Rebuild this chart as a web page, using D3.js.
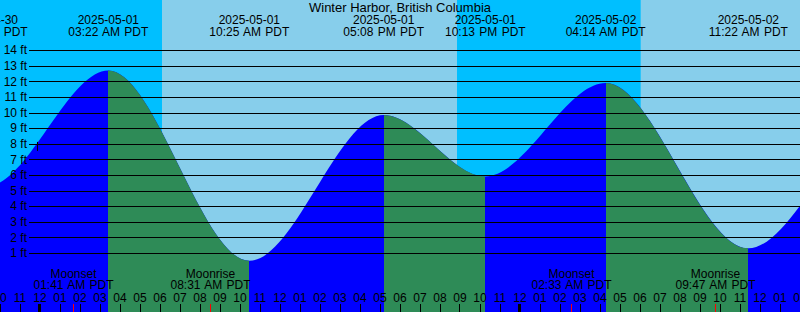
<!DOCTYPE html>
<html>
<head>
<meta charset="utf-8">
<script src="https://cdn.jsdelivr.net/npm/d3@7"></script>
<style>
  body { margin: 0; overflow: hidden; }
  text { font-family: "Liberation Sans", Arial, sans-serif; font-size: 12px; fill: #000; }
</style>
</head>
<body>
<div id="chart"></div>
<script>
// tide chart for Winter Harbor
var svgWidth = 800;
var svgHeight = 312;

var title = "Winter Harbor, British Columbia";

// high / low tides (local time, feet)
var tideTimes = ["2025-04-30 15:30", "2025-04-30 21:19", "2025-05-01 03:22", "2025-05-01 10:25",
                 "2025-05-01 17:08", "2025-05-01 22:13", "2025-05-02 04:14", "2025-05-02 11:22",
                 "2025-05-02 17:35", "2025-05-02 23:00"];
var tideHeights = [9.4, 5.3, 12.7, 0.5, 9.85, 5.9, 11.9, 1.3, 8.6, 5.0];

// sunrise / sunset
var nightStarts = ["2025-04-30 20:00", "2025-05-01 20:51"];
var nightEnds = ["2025-05-01 06:06", "2025-05-02 06:02"];

// moon events
var moonNames = ["Moonset", "Moonrise", "Moonset", "Moonrise"];
var moonTimes = ["2025-05-01 01:41", "2025-05-01 08:31", "2025-05-02 02:33", "2025-05-02 09:47"];

// current level marker
var nowTime = "2025-04-30 23:51";
var nowHeight = 7.8;

var feetTicks = [1, 2, 3, 4, 5, 6, 7, 8, 9, 10, 11, 12, 13, 14];

var parse = d3.timeParse("%Y-%m-%d %H:%M");
var tides = tideTimes.map(function(t, i) { return { time: parse(t), ft: tideHeights[i] }; });

var xScale = d3.scaleTime()
    .domain([parse("2025-04-30 22:00"), parse("2025-05-02 14:00")])
    .range([0, svgWidth]);
var yScale = d3.scaleLinear()
    .domain([0, 14])
    .range([268.6, 50.2]);

var svg = d3.select("#chart").append("svg")
    .attr("width", svgWidth)
    .attr("height", svgHeight);

// sky
svg.append("rect")
    .attr("width", svgWidth).attr("height", svgHeight)
    .attr("fill", "#87CEEB");
svg.selectAll(".night")
    .data(nightStarts)
    .enter()
    .append("rect")
    .attr("x", (d, i) => xScale(parse(d)))
    .attr("width", (d, i) => xScale(parse(nightEnds[i])) - xScale(parse(d)))
    .attr("y", 0)
    .attr("height", svgHeight)
    .attr("fill", "#00BFFF");

// tide fill, shifted a hair right like the original
var area = d3.area()
    .x(d => xScale(d.time) + 1)
    .y0(svgHeight)
    .y1(d => yScale(d.ft))
    .curve(d3.curveMonotoneX);

var falling = [];
for (var i = 0; i < tides.length - 1; i++) {
    if (tides[i].ft > tides[i + 1].ft) falling.push([tides[i].time, tides[i + 1].time]);
}

var clip = svg.append("defs").append("clipPath").attr("id", "ebb");
clip.selectAll("rect")
    .data(falling)
    .enter()
    .append("rect")
    .attr("x", d => Math.round(xScale(d[0]) + 1))
    .attr("width", d => Math.round(xScale(d[1]) + 1) - Math.round(xScale(d[0]) + 1))
    .attr("y", 0)
    .attr("height", svgHeight);

svg.append("path")
    .datum(tides)
    .attr("d", area)
    .attr("fill", "#0000FF");
svg.append("path")
    .datum(tides)
    .attr("d", area)
    .attr("fill", "#2E8B57")
    .attr("clip-path", "url(#ebb)");

// feet grid
svg.selectAll(".grid")
    .data(feetTicks)
    .enter()
    .append("line")
    .attr("x1", 29).attr("x2", svgWidth)
    .attr("y1", d => Math.round(yScale(d)) + 0.5)
    .attr("y2", d => Math.round(yScale(d)) + 0.5)
    .attr("stroke", "#000")
    .attr("stroke-width", 1);
svg.selectAll(".ftlabel")
    .data(feetTicks)
    .enter()
    .append("text")
    .attr("x", 27)
    .attr("y", d => yScale(d))
    .attr("dy", "0.35em")
    .attr("text-anchor", "end")
    .text(d => d + " ft");

// now marker
svg.append("line")
    .attr("x1", Math.floor(xScale(parse(nowTime))) + 0.5)
    .attr("x2", Math.floor(xScale(parse(nowTime))) + 0.5)
    .attr("y1", yScale(nowHeight) - 5)
    .attr("y2", yScale(nowHeight) + 4)
    .attr("stroke", "#000");

// title
svg.append("text")
    .attr("x", svgWidth / 2)
    .attr("y", 12)
    .attr("text-anchor", "middle")
    .style("font-size", "13px")
    .text(title);

// tide labels
var dateFmt = d3.timeFormat("%Y-%m-%d");
var timeFmt = d3.timeFormat("%I:%M %p PDT");
var tideLabels = svg.selectAll(".tlabel")
    .data(tides)
    .enter()
    .append("g")
    .attr("transform", d => `translate(${xScale(d.time) + 1},0)`);
tideLabels.append("text")
    .attr("y", 24)
    .attr("text-anchor", "middle")
    .text(d => dateFmt(d.time));
tideLabels.append("text")
    .attr("y", 36)
    .attr("text-anchor", "middle")
    .style("word-spacing", "1px")
    .text(d => timeFmt(d.time));

// hour ticks
var hours = xScale.ticks(d3.timeHour.every(1));
var hourFmt = d3.timeFormat("%I");
svg.selectAll(".hlabel")
    .data(hours)
    .enter()
    .append("text")
    .attr("x", d => xScale(d))
    .attr("y", 302)
    .attr("text-anchor", "middle")
    .text(d => hourFmt(d));
svg.selectAll(".htick")
    .data(hours)
    .enter()
    .append("line")
    .attr("x1", d => d.getHours() === 0 ? Math.floor(xScale(d)) - 0.5 : Math.floor(xScale(d)) + 0.5)
    .attr("x2", d => d.getHours() === 0 ? Math.floor(xScale(d)) - 0.5 : Math.floor(xScale(d)) + 0.5)
    .attr("y1", 304)
    .attr("y2", svgHeight)
    .attr("stroke", "#000")
    .attr("stroke-width", d => d.getHours() === 0 ? 3 : 1);

// moon events
var moon = svg.selectAll(".moon")
    .data(moonTimes)
    .enter()
    .append("g")
    .attr("transform", d => `translate(${Math.floor(xScale(parse(d))) + 0.5},0)`);
moon.append("line")
    .attr("y1", 304).attr("y2", svgHeight)
    .attr("stroke", "#FF0000");
moon.append("text")
    .attr("y", 278)
    .attr("text-anchor", "middle")
    .text((d, i) => moonNames[i]);
moon.append("text")
    .attr("y", 289)
    .attr("text-anchor", "middle")
    .style("word-spacing", "1px")
    .text(d => timeFmt(parse(d)));
</script>
</body>
</html>
